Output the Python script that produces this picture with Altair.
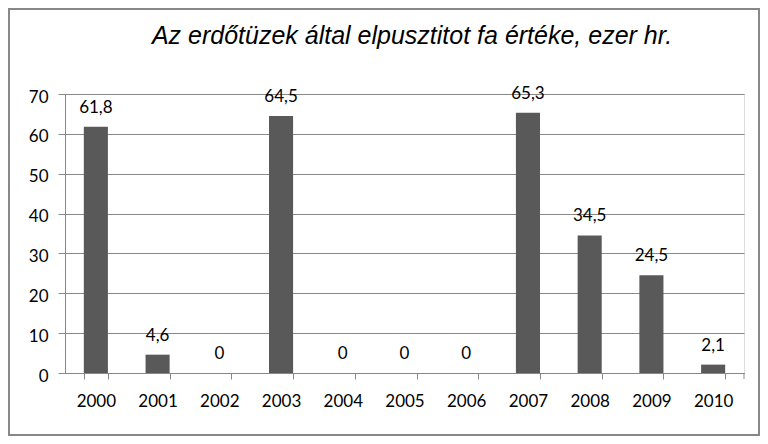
import altair as alt
import pandas as pd

years = ["2000", "2001", "2002", "2003", "2004", "2005", "2006", "2007", "2008", "2009", "2010"]
values = [61.8, 4.6, 0, 64.5, 0, 0, 0, 65.3, 34.5, 24.5, 2.1]
y_ticks = [0, 10, 20, 30, 40, 50, 60, 70]
title_text = "Az erdőtüzek által elpusztitot fa értéke, ezer hr."

def fmt(v):
    s = ("%g" % v).replace(".", ",")
    return s

df = pd.DataFrame({"year": years, "value": values, "label": [fmt(v) for v in values]})

W, H = 679, 279
GRAY = "#888888"
LABEL_FONT = "Lato"

x = alt.X("year:O", title=None,
          scale=alt.Scale(paddingInner=0.61, paddingOuter=0.305),
          axis=alt.Axis(labelAngle=0, tickBand="extent", domainColor=GRAY, tickColor=GRAY,
                        tickSize=6, labelFont=LABEL_FONT, labelFontSize=17, labelColor="#000000",
                        labelBaseline="alphabetic", labelPadding=27, grid=False, labelOverlap=False))
y = alt.Y("value:Q", title=None,
          scale=alt.Scale(domain=[0, 70], nice=False),
          axis=alt.Axis(values=y_ticks, tickCount=8, domainColor=GRAY, tickColor=GRAY, tickSize=7,
                        gridColor=GRAY, grid=True, labelFont=LABEL_FONT, labelFontSize=17,
                        labelColor="#000000", labelPadding=10, labelOffset=3,
                        labelOverlap=False, labelFlush=False, labelBound=False))

base = alt.Chart(df)
bars = base.mark_bar(color="#595959").encode(x=x, y=y)
texts = base.mark_text(font=LABEL_FONT, fontSize=17, color="#000000", baseline="alphabetic", dy=-14).encode(
    x=x, y=y, text="label:N")

title_df = pd.DataFrame({"t": [title_text]})
title = alt.Chart(title_df).mark_text(font="Liberation Sans", fontStyle="italic", fontSize=25,
                                      color="#000000", baseline="alphabetic", align="center").encode(
    x=alt.value(347), y=alt.value(-50), text="t:N")

border = alt.Chart(title_df).mark_rect(fill=None, stroke=GRAY, strokeWidth=2).encode(
    x=alt.value(-56), x2=alt.value(694), y=alt.value(-85), y2=alt.value(341))

last_tick = alt.Chart(title_df).mark_rule(color=GRAY).encode(
    x=alt.value(W), y=alt.value(H), y2=alt.value(H + 6))

chart = alt.layer(bars, texts, title, border, last_tick).properties(
    width=W, height=H,
    autosize=alt.AutoSizeParams(type="none"),
    padding={"left": 57, "top": 86, "right": 16, "bottom": 63},
).configure_view(stroke=None).configure(background="white")

chart.save("out.html", embed_options={"renderer": "svg", "actions": False})
